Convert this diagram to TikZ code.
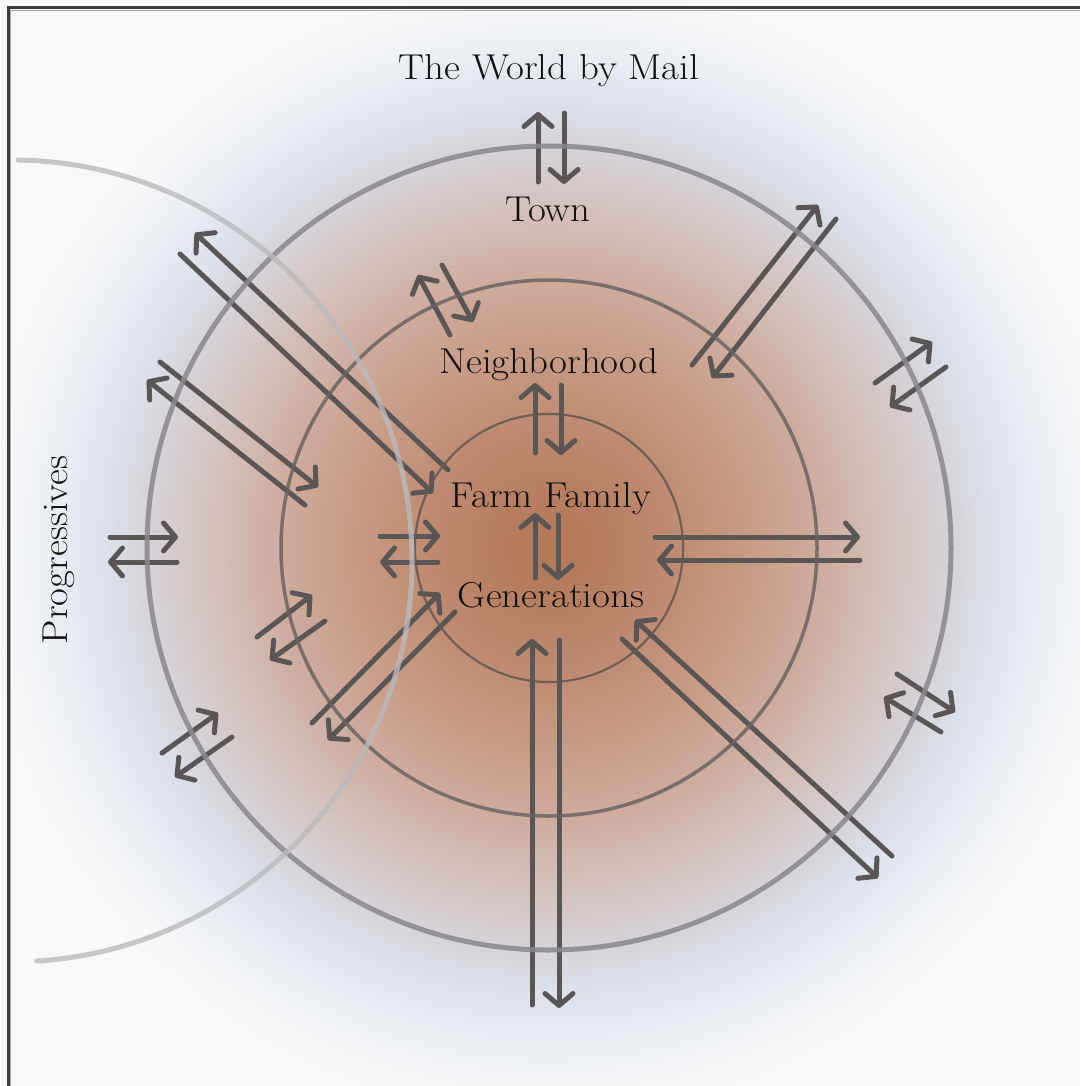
\documentclass[tikz,border=0pt]{standalone}
\usepackage{fontspec}
\setmainfont{Latin Modern Roman}[FakeStretch=1.08]
\usetikzlibrary{arrows.meta}
\definecolor{bgc}{RGB}{248,248,248}
\definecolor{sa}{RGB}{178,120,88}
\definecolor{sb}{RGB}{183,127,97}
\definecolor{sc}{RGB}{192,141,116}
\definecolor{sd}{RGB}{200,155,134}
\definecolor{se}{RGB}{206,171,157}
\definecolor{sf}{RGB}{211,190,184}
\definecolor{sg}{RGB}{214,210,216}
\definecolor{sh}{RGB}{220,225,234}
\definecolor{si}{RGB}{231,235,242}
\definecolor{sj}{RGB}{242,244,247}
\definecolor{arrc}{RGB}{90,86,86}
\definecolor{outc}{RGB}{136,136,140}
\definecolor{midc}{RGB}{105,100,100}
\definecolor{innc}{RGB}{100,86,80}
\definecolor{progc}{RGB}{186,186,188}
\definecolor{txtc}{RGB}{18,16,16}
\definecolor{bordc}{RGB}{60,60,60}
\pgfdeclareradialshading{ringshade}{\pgfpoint{0bp}{0bp}}{%
color(0bp)=(sa); color(2.5bp)=(sb); color(5.58bp)=(sc); color(8.33bp)=(sd);
color(11.17bp)=(se); color(13.75bp)=(sf); color(16.67bp)=(sg); color(18.5bp)=(sh);
color(20.2bp)=(si); color(22bp)=(sj); color(23.8bp)=(bgc); color(50bp)=(bgc)}
\begin{document}
\begin{tikzpicture}[x=1pt,y=1pt,yscale=-1,
  arr/.style={line width=5pt, draw=arrc, line cap=round, -{Straight Barb[length=12pt,width=28pt,round]}},
  lbl/.style={text=txtc, font=\fontsize{36}{42}\selectfont, inner sep=0pt, anchor=base},
  ring/.style={draw opacity=0.85}]
\useasboundingbox (0,0) rectangle (1080,1086);
\fill[bgc] (0,0) rectangle (1080,1086);
\begin{scope}
\clip (0,0) rectangle (1080,1086);
\shade[shading=ringshade] (549,548) circle[radius=600pt];
\end{scope}
% arrows
\draw[arr] (538,182) -- (538,112);
\draw[arr] (564,113) -- (564,184);
\draw[arr] (535,453) -- (535,383);
\draw[arr] (561,385) -- (561,455);
\draw[arr] (535,578) -- (535,513);
\draw[arr] (558,515) -- (558,580);
\draw[arr] (532,1005) -- (532,639);
\draw[arr] (559,640) -- (559,1008);
\draw[arr] (892,856) -- (635,620);
\draw[arr] (622,639) -- (878,878);
\draw[arr] (897,674) -- (955,712);
\draw[arr] (941,732) -- (884,697);
\draw[arr] (692,365) -- (818,205);
\draw[arr] (836,219) -- (712,378);
\draw[arr] (875,383) -- (932,342);
\draw[arr] (946,367) -- (890,407);
\draw[arr] (655,537) -- (860,537);
\draw[arr] (860,560) -- (657,560);
\draw[arr] (448,470) -- (195,233);
\draw[arr] (180,254) -- (433,493);
\draw[arr] (160,362) -- (318,487);
\draw[arr] (305,505) -- (147,380);
\draw[arr] (110,537) -- (178,537);
\draw[arr] (177,562) -- (108,562);
\draw[arr] (380,536) -- (440,536);
\draw[arr] (438,562) -- (380,562);
\draw[arr] (257,637) -- (312,595);
\draw[arr] (325,621) -- (270,660);
\draw[arr] (162,753) -- (218,713);
\draw[arr] (232,737) -- (175,777);
\draw[arr] (312,723) -- (440,593);
\draw[arr] (455,612) -- (328,740);
\draw[arr] (450,335) -- (418,275);
\draw[arr] (442,265) -- (473,322);
% rings
\draw[ring, line width=5pt, draw=outc] (549,548) circle[radius=402pt];
\draw[ring, line width=3.5pt, draw=midc] (549,548) circle[radius=268pt];
\draw[ring, line width=2.2pt, draw=innc] (549,548) circle[radius=134pt];
\draw[line width=5pt, draw=progc, draw opacity=0.8, line cap=round]
  (18,160) arc[start angle=-89, end angle=86.3, radius=401pt];
% labels
\node[lbl] (world) at (549,80) {The World by Mail};
\node[lbl] (town) at (548,222) {Town};
\node[lbl] (neigh) at (549,373) {Neighborhood};
\node[lbl] (farm) at (551,507) {Farm Family};
\node[lbl] (gen) at (551,607) {Generations};
\node[lbl, rotate=90] (prog) at (67,550) {Progressives};
% frame
\draw[line width=1.2pt, draw=gray!70] (10.3,1086) -- (10.3,10.3) -- (1080,10.3);
\draw[line width=3pt, draw=bordc] (8,1086) -- (8,8) -- (1080,8);
\end{tikzpicture}
\end{document}
